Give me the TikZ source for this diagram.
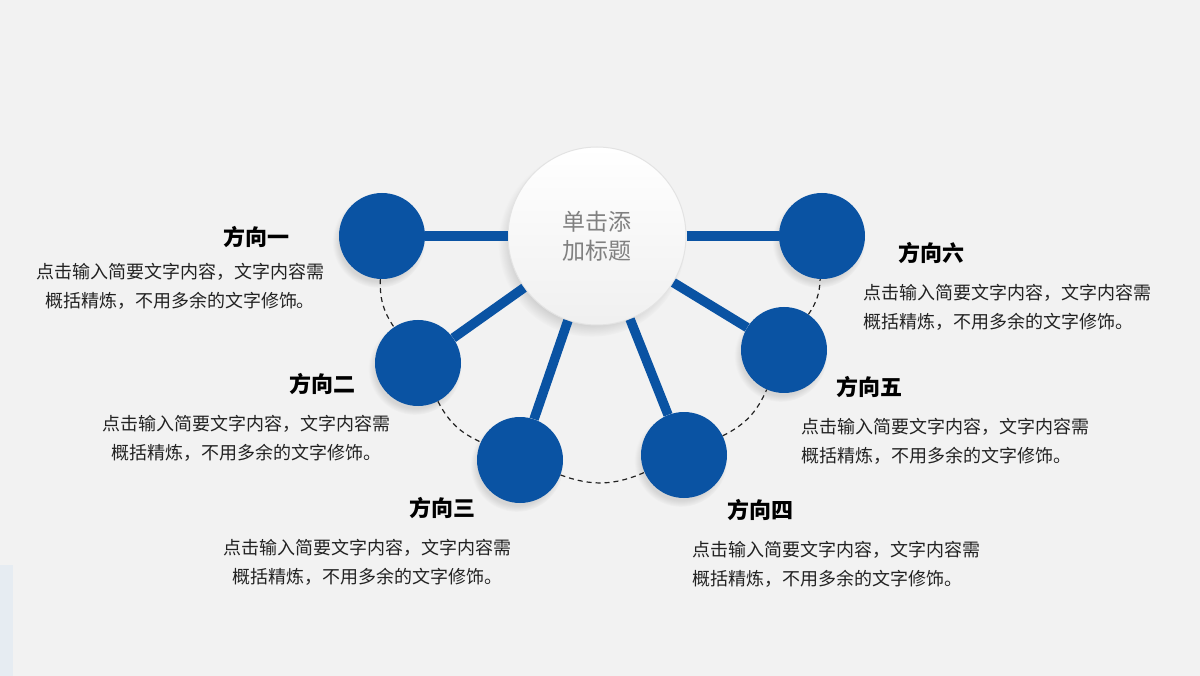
\documentclass[tikz,border=0pt]{standalone}
\usepackage{fontspec}
\newfontfamily\cjk{Noto Sans CJK SC}
\usepackage{tikz}
\usetikzlibrary{positioning}
\usetikzlibrary{shadows}
\definecolor{dirblue}{HTML}{0A53A3}
\definecolor{paper}{HTML}{F2F2F2}
\definecolor{inkgray}{HTML}{222222}
\definecolor{edgeblue}{HTML}{E6ECF2}
\tikzset{hub/.style={circle, minimum size=178pt, inner sep=0pt,
      top color=white, bottom color=gray!12, draw=gray!22, line width=1pt,
      circular drop shadow={shadow xshift=-5pt, shadow yshift=-7pt,
      opacity=.3, shadow scale=1.05},
      align=center, text=black!50, font=\cjk\fontsize{23}{29}\selectfont},
      dir/.style={circle, minimum size=86pt, inner sep=0pt, fill=dirblue,
      circular drop shadow={shadow xshift=-3pt, shadow yshift=-5pt,
      opacity=.25, shadow scale=1.08}},
      spoke/.style={draw=dirblue, line width=9.5pt},
      link/.style={draw=inkgray, dash pattern=on 5pt off 4pt, line width=1.2pt},
      head/.style={text=black, font=\cjk\bfseries\fontsize{22}{26}\selectfont},
      note/.style={text=inkgray, inner sep=0pt,
      font=\cjk\fontsize{18}{29}\selectfont}}

\begin{document}
\begin{tikzpicture}[x=1pt, y=-1pt]
          \useasboundingbox[fill=paper] (0,0) rectangle (1200,676);
          \fill[edgeblue] (0,565) rectangle (13,676);
          % hub and the six directions
          \node[hub] (hub) at (597,236) {单击添\\加标题};
          \node[dir] (d1) at (382,236) {};
          \node[dir] (d2) at (418,363) {};
          \node[dir] (d3) at (520,460) {};
          \node[dir] (d4) at (684,455) {};
          \node[dir] (d5) at (784,350) {};
          \node[dir] (d6) at (822,236) {};
          \draw[spoke] (hub) -- (d1);
          \draw[spoke] (hub) -- (d2);
          \draw[spoke] (hub) -- (d3);
          \draw[spoke] (hub) -- (d4);
          \draw[spoke] (hub) -- (d5);
          \draw[spoke] (hub) -- (d6);
          \draw[link] (d1) to[bend right=18] (d2);
          \draw[link] (d2) to[bend right=19] (d3);
          \draw[link] (d3) to[bend right=22] (d4);
          \draw[link] (d4) to[bend right=20] (d5);
          \draw[link] (d5) to[bend right=16] (d6);
          % labels
          \node[head] (h1) at (256,237) {方向一};
          \node[note, align=center] (n1) at (180,286.5) {点击输入简要文字内容，文字内容需\\概括精炼，不用多余的文字修饰。};
          \node[head] (h2) at (322,384) {方向二};
          \node[note, align=center] (n2) at (246.5,438.5) {点击输入简要文字内容，文字内容需\\概括精炼，不用多余的文字修饰。};
          \node[head] (h3) at (442,508) {方向三};
          \node[note, align=center] (n3) at (367.5,562.5) {点击输入简要文字内容，文字内容需\\概括精炼，不用多余的文字修饰。};
          \node[head] (h4) at (760,510) {方向四};
          \node[note, align=left, anchor=west] (n4) at (692,564) {点击输入简要文字内容，文字内容需\\概括精炼，不用多余的文字修饰。};
          \node[head] (h5) at (869.5,387) {方向五};
          \node[note, align=left, anchor=west] (n5) at (801,441.5) {点击输入简要文字内容，文字内容需\\概括精炼，不用多余的文字修饰。};
          \node[head] (h6) at (931,253) {方向六};
          \node[note, align=left, anchor=west] (n6) at (863,307.5) {点击输入简要文字内容，文字内容需\\概括精炼，不用多余的文字修饰。};
       \end{tikzpicture}
\end{document}
